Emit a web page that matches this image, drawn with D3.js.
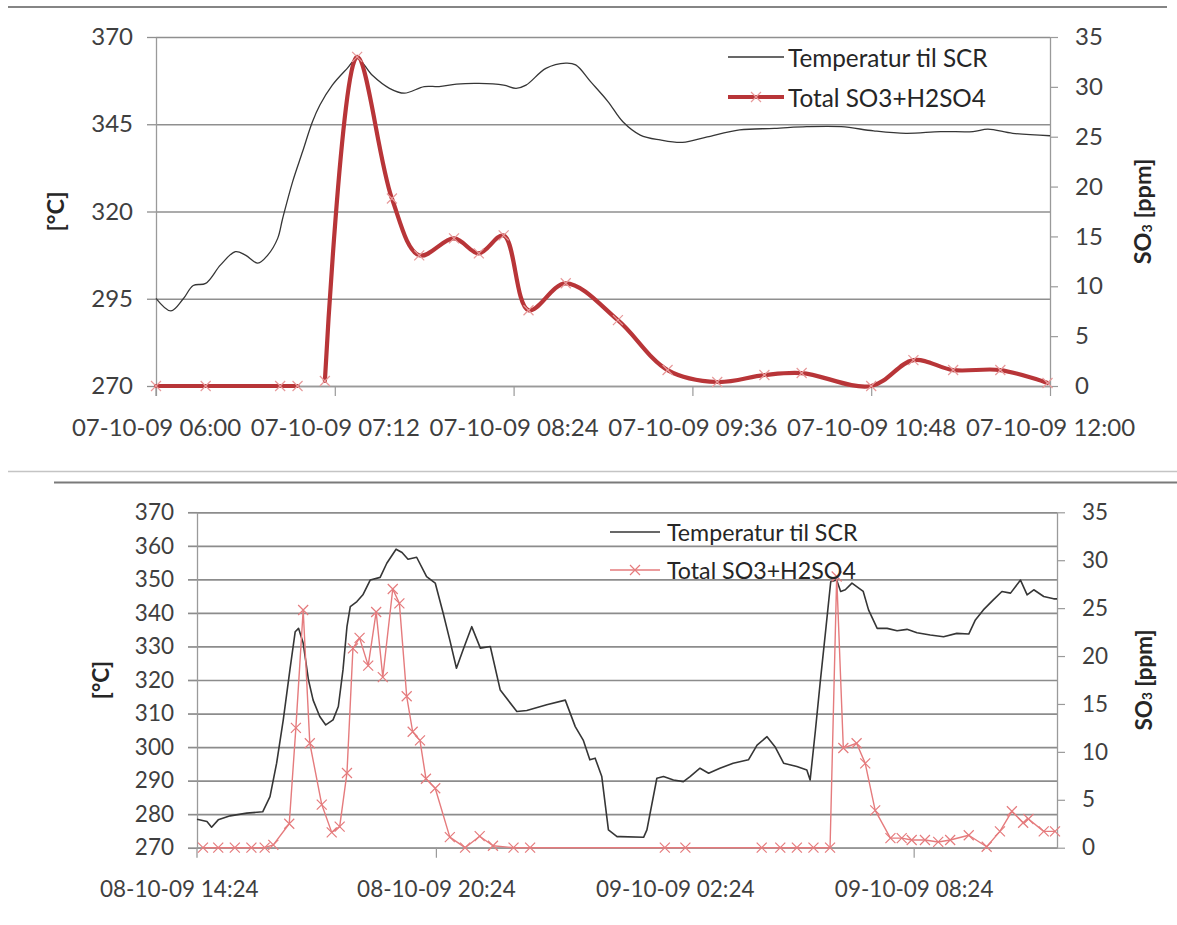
<!DOCTYPE html>
<html>
<head>
<meta charset="utf-8">
<script src="https://cdn.jsdelivr.net/npm/d3@7"></script>
<style>
  body { margin: 0; background: #fff; }
  svg { display: block; }
  text { font-family: Lato, "Open Sans", sans-serif; fill: #3f3f3f; }
</style>
</head>
<body>
<svg id="chart" width="1177" height="925"></svg>
<script>
// ---- Run 1: 07-10-09, temperature before SCR and total SO3+H2SO4 ----
const run1Day = "07-10-09";
const run1TempTimes = ["06:00","06:06","06:11","06:15","06:20","06:26","06:32","06:36","06:41","06:45",
  "06:49","06:51","06:55","06:59","07:03","07:06","07:11","07:17","07:21","07:27",
  "07:34","07:40","07:48","07:54","08:01","08:10","08:20","08:25","08:29","08:37",
  "08:45","08:49","08:55","09:02","09:08","09:15","09:23","09:32","09:42","09:55",
  "10:09","10:22","10:36","10:49","11:02","11:16","11:29","11:35","11:45","12:00"];
const run1TempValues = [295.1,291.5,295.0,298.8,299.4,304.7,308.5,307.5,305.2,307.5,
  312.3,318.0,328.5,337.1,345.7,350.5,356.2,361.0,363.9,359.1,
  355.3,353.9,355.8,355.8,356.5,356.7,356.2,355.3,356.2,361.0,
  362.5,362.0,357.2,351.5,345.7,341.9,340.5,339.8,341.4,343.4,
  343.8,344.3,344.3,343.1,342.4,342.9,342.9,343.6,342.4,341.7];
const run1SO3Times = ["06:00","06:20","06:50","06:57","07:02","07:08","07:21","07:35","07:46","08:00",
  "08:10","08:20","08:30","08:45","09:06","09:26","09:46","10:05","10:20","10:48",
  "11:05","11:21","11:40","11:59"];
const run1SO3Values = [0,0,0,0,null,0.5,33.0,18.8,13.1,14.8,
  13.3,15.1,7.6,10.3,6.6,1.6,0.4,1.1,1.3,0,
  2.6,1.6,1.6,0.3];
const run1TempTicks = [270,295,320,345,370];
const run1XTicks = ["06:00","07:12","08:24","09:36","10:48","12:00"];

// ---- Run 2: 08-10-09 to 09-10-09 ----
const run2TempTimes = ["08-10-09 14:24","08-10-09 14:39","08-10-09 14:46","08-10-09 14:56","08-10-09 15:14",
  "08-10-09 15:39","08-10-09 16:03","08-10-09 16:14","08-10-09 16:24","08-10-09 16:34",
  "08-10-09 16:44","08-10-09 16:52","08-10-09 16:57","08-10-09 17:04","08-10-09 17:12",
  "08-10-09 17:19","08-10-09 17:29","08-10-09 17:38","08-10-09 17:49","08-10-09 17:57",
  "08-10-09 18:04","08-10-09 18:10","08-10-09 18:15","08-10-09 18:25","08-10-09 18:34",
  "08-10-09 18:45","08-10-09 19:00","08-10-09 19:10","08-10-09 19:24","08-10-09 19:33",
  "08-10-09 19:42","08-10-09 19:55","08-10-09 20:10","08-10-09 20:23","08-10-09 20:35",
  "08-10-09 20:45","08-10-09 20:55","08-10-09 21:05","08-10-09 21:18","08-10-09 21:31",
  "08-10-09 21:46","08-10-09 22:01","08-10-09 22:26","08-10-09 22:41","08-10-09 23:11",
  "08-10-09 23:39","08-10-09 23:54","09-10-09 00:06","09-10-09 00:16","09-10-09 00:24",
  "09-10-09 00:34","09-10-09 00:44","09-10-09 00:57","09-10-09 01:02","09-10-09 01:37",
  "09-10-09 01:42","09-10-09 01:57","09-10-09 02:07","09-10-09 02:22","09-10-09 02:37",
  "09-10-09 02:47","09-10-09 03:02","09-10-09 03:15","09-10-09 03:32","09-10-09 03:52",
  "09-10-09 04:15","09-10-09 04:28","09-10-09 04:43","09-10-09 04:55","09-10-09 05:08",
  "09-10-09 05:28","09-10-09 05:43","09-10-09 05:48","09-10-09 05:56","09-10-09 06:03",
  "09-10-09 06:12","09-10-09 06:19","09-10-09 06:28","09-10-09 06:34","09-10-09 06:41",
  "09-10-09 06:51","09-10-09 07:08","09-10-09 07:16","09-10-09 07:29","09-10-09 07:44",
  "09-10-09 07:59","09-10-09 08:14","09-10-09 08:29","09-10-09 08:49","09-10-09 09:09",
  "09-10-09 09:29","09-10-09 09:47","09-10-09 09:57","09-10-09 10:09","09-10-09 10:24",
  "09-10-09 10:37","09-10-09 10:50","09-10-09 11:05","09-10-09 11:15","09-10-09 11:25",
  "09-10-09 11:40","09-10-09 11:55","09-10-09 12:00"];
const run2TempValues = [278.5,277.8,276.1,278.3,279.5,
  280.3,280.7,285.2,295.2,308.1,
  323.0,334.4,335.4,331.0,320.0,
  314.0,309.1,306.6,308.1,312.1,
  323.0,335.9,341.9,343.4,345.4,
  349.8,350.6,354.8,359.0,358.0,
  356.0,356.6,350.8,348.9,339.9,
  331.9,323.5,329.0,335.9,329.5,
  330.0,317.0,310.6,310.9,312.6,
  314.0,306.1,302.1,296.2,296.7,
  291.2,275.3,273.3,273.3,273.1,
  275.3,290.7,291.2,290.2,289.7,
  291.2,293.7,292.2,293.7,295.2,
  296.2,300.6,303.1,300.1,295.2,
  294.2,293.2,290.2,305.1,319.0,
  335.9,349.3,349.8,346.4,346.9,
  348.9,346.4,340.9,335.4,335.4,
  334.7,335.1,334.1,333.4,332.9,
  333.9,333.7,337.9,340.9,343.9,
  346.4,345.9,349.8,345.4,346.9,
  344.9,344.2,344.2];
const run2SO3Times = ["08-10-09 14:33","08-10-09 14:56","08-10-09 15:21","08-10-09 15:46","08-10-09 16:06",
  "08-10-09 16:19","08-10-09 16:43","08-10-09 16:53","08-10-09 17:04","08-10-09 17:14",
  "08-10-09 17:32","08-10-09 17:47","08-10-09 17:59","08-10-09 18:10","08-10-09 18:19",
  "08-10-09 18:29","08-10-09 18:42","08-10-09 18:54","08-10-09 19:04","08-10-09 19:19",
  "08-10-09 19:29","08-10-09 19:40","08-10-09 19:49","08-10-09 20:00","08-10-09 20:09",
  "08-10-09 20:23","08-10-09 20:45","08-10-09 21:08","08-10-09 21:30","08-10-09 21:50",
  "08-10-09 22:21","08-10-09 22:46","09-10-09 02:09","09-10-09 02:40","09-10-09 04:35",
  "09-10-09 05:03","09-10-09 05:28","09-10-09 05:53","09-10-09 06:18","09-10-09 06:28",
  "09-10-09 06:38","09-10-09 06:58","09-10-09 07:11","09-10-09 07:26","09-10-09 07:49",
  "09-10-09 08:06","09-10-09 08:21","09-10-09 08:41","09-10-09 09:01","09-10-09 09:19",
  "09-10-09 09:47","09-10-09 10:14","09-10-09 10:34","09-10-09 10:52","09-10-09 11:09",
  "09-10-09 11:17","09-10-09 11:40","09-10-09 11:57"];
const run2SO3Values = [0,0,0,0,0,
  0.3,2.5,12.5,24.8,10.9,
  4.5,1.6,2.2,7.8,20.8,
  21.9,19.0,24.6,17.8,27.0,
  25.5,15.8,12.1,11.2,7.2,
  6.2,1.1,0,1.2,0.2,
  0,0,0,0,0,
  0,0,0,0,28.3,
  10.4,10.9,8.8,3.9,1.0,
  1.0,0.8,0.8,0.6,0.8,
  1.3,0.1,1.7,3.8,2.6,
  3.0,1.7,1.7];
const run2TempTicks = [270,280,290,300,310,320,330,340,350,360,370];
const run2XStart = "08-10-09 14:24";
const run2XEnd = "09-10-09 12:00";
const run2LabelTimes = ["08-10-09 14:24","08-10-09 20:24","09-10-09 02:24","09-10-09 08:24"];
const run2MarkTimes = ["08-10-09 20:24","09-10-09 08:24"];

const so3Ticks = [0,5,10,15,20,25,30,35];
const seriesNames = ["Temperatur til SCR", "Total SO3+H2SO4"];

const parseT = d3.timeParse("%d-%m-%y %H:%M");
const fmtT = d3.timeFormat("%d-%m-%y %H:%M");
const svg = d3.select("#chart");

// separator rules between the two figures
svg.append("line").attr("x1", 8).attr("x2", 1167).attr("y1", 7).attr("y2", 7)
  .attr("stroke", "#858585").attr("stroke-width", 2);
svg.append("line").attr("x1", 8).attr("x2", 1177).attr("y1", 471.5).attr("y2", 471.5)
  .attr("stroke", "#c4c4c4").attr("stroke-width", 1.5);
svg.append("line").attr("x1", 54).attr("x2", 1177).attr("y1", 482.5).attr("y2", 482.5)
  .attr("stroke", "#7a7a7a").attr("stroke-width", 2);

function crossPath(size) {
  const s = size / 2;
  return `M${-s},${-s}L${s},${s}M${-s},${s}L${s},${-s}`;
}

function drawPanel(p) {
  const g = svg.append("g");
  const x = d3.scaleTime().domain(p.xDomain).range([p.left, p.right]);
  const yT = d3.scaleLinear().domain([270, 370]).range([p.bottom, p.top]);
  const yS = d3.scaleLinear().domain([0, 35]).range([p.bottom, p.top]);
  const w = p.right - p.left;

  // horizontal gridlines on the temperature ticks
  const grid = g.append("g").attr("transform", `translate(${p.left},0)`)
    .call(d3.axisLeft(yT).tickValues(p.tempTicks).tickSize(-w).tickFormat(""));
  grid.select(".domain").remove();
  grid.selectAll("line").attr("stroke", p.gridColor).attr("stroke-width", p.gridWidth);

  // left (temperature) axis
  const ax = g.append("g").attr("transform", `translate(${p.left},0)`)
    .call(d3.axisLeft(yT).tickValues(p.tempTicks).tickSize(9).tickSizeOuter(0).tickPadding(14));
  ax.select(".domain").attr("stroke", p.axisColor).attr("stroke-width", 1.3);
  ax.selectAll("line").attr("stroke", p.gridColor).attr("stroke-width", p.gridWidth);
  ax.selectAll("text").attr("font-size", p.fontSize).attr("font-family", null).style("fill", "#3f3f3f");

  // right (SO3) axis
  const ar = g.append("g").attr("transform", `translate(${p.right},0)`)
    .call(d3.axisRight(yS).tickValues(so3Ticks).tickSize(8).tickSizeOuter(0).tickPadding(17));
  ar.select(".domain").attr("stroke", p.axisColor).attr("stroke-width", 1.3);
  ar.selectAll("line").attr("stroke", p.axisColor).attr("stroke-width", 1.2);
  ar.selectAll("text").attr("font-size", p.fontSize).attr("font-family", null).style("fill", "#3f3f3f");

  // bottom axis: tick marks
  const ab = g.append("g").attr("transform", `translate(0,${p.bottom})`)
    .call(d3.axisBottom(x).tickValues(p.markTimes).tickSize(10).tickSizeOuter(0).tickFormat(""));
  ab.select(".domain").attr("stroke", p.axisColor).attr("stroke-width", 1.3);
  ab.selectAll("line").attr("stroke", p.axisColor).attr("stroke-width", 1.2);
  g.append("line").attr("x1", p.left).attr("x2", p.left).attr("y1", p.bottom).attr("y2", p.bottom + 10)
    .attr("stroke", p.axisColor).attr("stroke-width", 1.3);

  // bottom axis: date labels
  const al = g.append("g").attr("transform", `translate(0,${p.bottom})`)
    .call(d3.axisBottom(x).tickValues(p.labelTimes).tickSize(0).tickPadding(p.labelPad).tickFormat(fmtT));
  al.select(".domain").remove();
  al.selectAll("text").attr("font-size", p.fontSize).attr("font-family", null).style("fill", "#3f3f3f");
  // the first date label starts at the chart area's left edge when one is given
  if (p.firstLabelLeft != null) {
    const first = al.select(".tick");
    const tx = +first.attr("transform").match(/translate\(([-\d.]+)/)[1];
    const bw = first.select("text").node().getComputedTextLength();
    first.select("text").attr("x", p.firstLabelLeft + bw / 2 - tx);
  }

  // axis titles
  g.append("text").attr("transform", `translate(${p.leftTitleX},${(p.top + p.bottom) / 2}) rotate(-90)`)
    .attr("text-anchor", "middle").attr("dominant-baseline", "central")
    .attr("font-size", p.titleSize).attr("font-weight", "bold").style("fill", "#262626").text("[°C]");
  const rt = g.append("text").attr("transform", `translate(${p.rightTitleX},${(p.top + p.bottom) / 2}) rotate(-90)`)
    .attr("text-anchor", "middle").attr("dominant-baseline", "central")
    .attr("font-size", p.titleSize).attr("font-weight", "bold").style("fill", "#262626");
  rt.append("tspan").text("SO");
  rt.append("tspan").attr("font-size", p.titleSize * 0.6).attr("dy", "0.3em").text("3");
  rt.append("tspan").attr("dy", "-0.18em").text(" [ppm]");

  // temperature line
  const tempData = p.tempTimes.map((t, i) => ({ t: parseT(t), v: p.tempValues[i] }));
  g.append("path").datum(tempData)
    .attr("fill", "none").attr("stroke", "#363636").attr("stroke-width", p.tempWidth)
    .attr("stroke-linejoin", "round")
    .attr("d", d3.line().x(d => x(d.t)).y(d => yT(d.v)).curve(p.tempCurve));

  // SO3 line with x markers
  const so3Data = p.so3Times.map((t, i) => ({ t: parseT(t), v: p.so3Values[i] }));
  g.append("path").datum(so3Data)
    .attr("fill", "none").attr("stroke", p.so3Color).attr("stroke-width", p.so3Width)
    .attr("stroke-linejoin", "round").attr("stroke-linecap", "round")
    .attr("d", d3.line().defined(d => d.v !== null).x(d => x(d.t)).y(d => yS(d.v)).curve(p.so3Curve));
  g.append("g").selectAll("path").data(so3Data.filter(d => d.v !== null)).join("path")
    .attr("transform", d => `translate(${x(d.t)},${yS(d.v)})`)
    .attr("d", crossPath(p.markerSize))
    .attr("fill", "none").attr("stroke", p.markerColor).attr("stroke-width", 1.2);

  // legend
  const lg = g.append("g");
  lg.append("line").attr("x1", p.legX0).attr("x2", p.legX1).attr("y1", p.legY0).attr("y2", p.legY0)
    .attr("stroke", "#363636").attr("stroke-width", p.tempWidth);
  lg.append("text").attr("x", p.legTextX).attr("y", p.legY0).attr("dominant-baseline", "central")
    .attr("font-size", p.legendSize).style("fill", "#262626").text(seriesNames[0]);
  lg.append("line").attr("x1", p.legX0).attr("x2", p.legX1).attr("y1", p.legY1).attr("y2", p.legY1)
    .attr("stroke", p.so3Color).attr("stroke-width", p.so3Width);
  lg.append("path").attr("transform", `translate(${(p.legX0 + p.legX1) / 2},${p.legY1})`)
    .attr("d", crossPath(p.markerSize)).attr("fill", "none")
    .attr("stroke", p.markerColor).attr("stroke-width", 1.2);
  lg.append("text").attr("x", p.legTextX).attr("y", p.legY1).attr("dominant-baseline", "central")
    .attr("font-size", p.legendSize).style("fill", "#262626").text(seriesNames[1]);
}

drawPanel({
  left: 156, right: 1050, top: 37, bottom: 386,
  xDomain: [parseT(run1Day + " 06:00"), parseT(run1Day + " 12:00")],
  tempTicks: run1TempTicks,
  markTimes: run1XTicks.map(t => parseT(run1Day + " " + t)),
  labelTimes: run1XTicks.map(t => parseT(run1Day + " " + t)),
  labelPad: 33, firstLabelLeft: null,
  tempTimes: run1TempTimes.map(t => run1Day + " " + t), tempValues: run1TempValues,
  so3Times: run1SO3Times.map(t => run1Day + " " + t), so3Values: run1SO3Values,
  tempCurve: d3.curveCatmullRom, so3Curve: d3.curveCatmullRom,
  tempWidth: 1.3, so3Color: "#b83538", so3Width: 4.2, markerColor: "#e79a9b", markerSize: 10,
  gridColor: "#8f8f8f", gridWidth: 1.3, axisColor: "#9a9a9a",
  fontSize: 24, legendSize: 24.3, titleSize: 23.5,
  leftTitleX: 55, rightTitleX: 1142,
  legX0: 728, legX1: 784, legTextX: 788, legY0: 57, legY1: 97
});

drawPanel({
  left: 197, right: 1057, top: 512.3, bottom: 847.7,
  xDomain: [parseT(run2XStart), parseT(run2XEnd)],
  tempTicks: run2TempTicks,
  markTimes: run2MarkTimes.map(parseT),
  labelTimes: run2LabelTimes.map(parseT),
  labelPad: 33, firstLabelLeft: 100,
  tempTimes: run2TempTimes, tempValues: run2TempValues,
  so3Times: run2SO3Times, so3Values: run2SO3Values,
  tempCurve: d3.curveLinear, so3Curve: d3.curveLinear,
  tempWidth: 1.6, so3Color: "#e57b7d", so3Width: 1.4, markerColor: "#e57b7d", markerSize: 10,
  gridColor: "#8c8c8c", gridWidth: 1.7, axisColor: "#9a9a9a",
  fontSize: 22.5, legendSize: 23.2, titleSize: 22.5,
  leftTitleX: 100, rightTitleX: 1143,
  legX0: 610, legX1: 660, legTextX: 667, legY0: 532, legY1: 570
});
</script>
</body>
</html>
